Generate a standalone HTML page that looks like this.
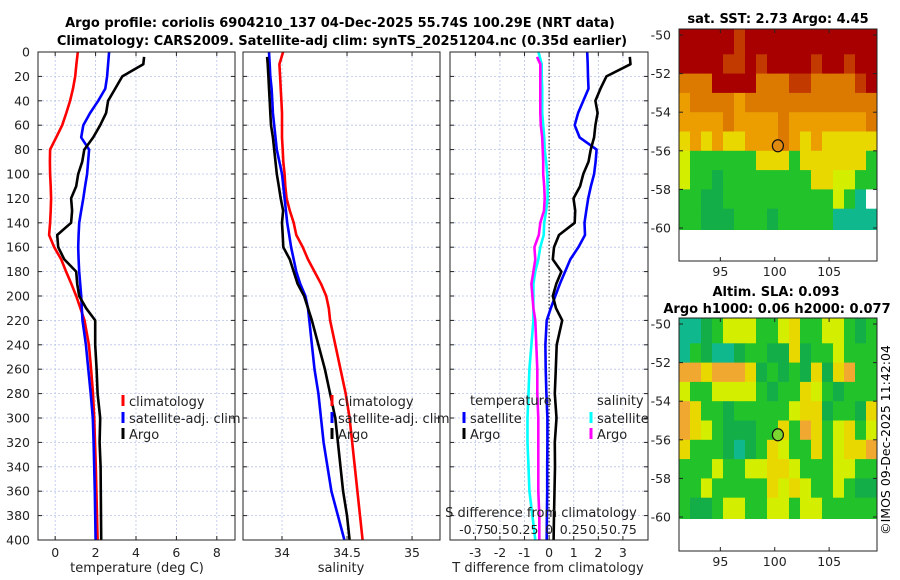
<!DOCTYPE html>
<html><head><meta charset="utf-8"><style>
html,body{margin:0;padding:0;background:#fff}
svg{display:block;font-family:"DejaVu Sans","Liberation Sans",sans-serif}
</style></head><body>
<svg id="fig" width="900" height="580" viewBox="0 0 900 580" xmlns="http://www.w3.org/2000/svg">
<text x="340" y="27" font-size="13" font-weight="bold" text-anchor="middle">Argo profile: coriolis 6904210_137 04-Dec-2025 55.74S 100.29E (NRT data)</text>
<text x="342" y="45" font-size="13" font-weight="bold" text-anchor="middle">Climatology: CARS2009. Satellite-adj clim: synTS_20251204.nc (0.35d earlier)</text>
<text x="778" y="23" font-size="13" font-weight="bold" text-anchor="middle">sat. SST: 2.73 Argo: 4.45</text>
<text x="776" y="296" font-size="13" font-weight="bold" text-anchor="middle">Altim. SLA: 0.093</text>
<text x="777" y="313" font-size="13" font-weight="bold" text-anchor="middle">Argo h1000: 0.06 h2000: 0.077</text>
<text transform="translate(890,440) rotate(-90)" font-size="12.5" text-anchor="middle">©IMOS 09-Dec-2025 11:42:04</text>
<g id="layer"></g>
</svg>
<script>
// ---- profile data ----
const depths = [0,10,20,30,40,50,60,70,80,90,100,110,120,130,140,150,160,170,180,190,200,210,220,240,260,280,300,320,340,360,380,400];
const argoDepths = [4,10,20,30,40,50,60,70,80,90,100,110,120,130,140,150,160,170,180,190,200,210,220,240,260,280,300,320,340,360,380,400];
const tempClim = [1.12,1.05,0.99,0.88,0.74,0.55,0.35,0.05,-0.25,-0.26,-0.25,-0.22,-0.2,-0.22,-0.25,-0.3,-0.05,0.3,0.54,0.8,1.04,1.25,1.45,1.67,1.78,1.87,1.93,1.97,2.01,2.04,2.07,2.1];
const tempSat = [2.67,2.62,2.57,2.48,2.13,1.73,1.39,1.29,1.68,1.63,1.58,1.48,1.39,1.29,1.19,1.16,1.14,1.16,1.19,1.24,1.29,1.32,1.35,1.52,1.64,1.76,1.86,1.9,1.93,1.96,1.98,2.0];
const tempArgo = [4.4,4.36,3.32,2.97,2.62,2.52,2.23,1.88,1.44,1.34,1.14,1.04,0.79,0.84,0.79,0.1,0.15,0.45,1.04,1.09,1.19,1.53,1.98,1.98,2.05,2.1,2.23,2.2,2.25,2.26,2.27,2.28];
const salClim = [34.008,33.98,33.985,33.99,33.995,34.0,34.0,34.0,34.005,34.01,34.02,34.025,34.035,34.06,34.09,34.11,34.16,34.2,34.25,34.3,34.34,34.36,34.37,34.41,34.45,34.49,34.52,34.54,34.56,34.58,34.6,34.62];
const salSat = [33.9,33.905,33.91,33.92,33.925,33.93,33.94,33.95,33.96,33.98,34.0,34.01,34.02,34.03,34.04,34.055,34.07,34.09,34.11,34.14,34.18,34.2,34.21,34.23,34.25,34.28,34.3,34.32,34.35,34.38,34.43,34.48];
const salArgo = [33.885,33.89,33.895,33.9,33.905,33.91,33.915,33.93,33.94,33.95,33.96,33.975,33.99,34.008,34.0,34.005,34.01,34.06,34.09,34.12,34.17,34.2,34.23,34.28,34.33,34.37,34.41,34.43,34.45,34.47,34.5,34.52];
const depthTicks = [0,20,40,60,80,100,120,140,160,180,200,220,240,260,280,300,320,340,360,380,400];
const tempTicks = [0,2,4,6,8];
const salTicks = [34,34.5,35];
const salTickLabels = ["34","34.5","35"];
const diffTicks = [-3,-2,-1,0,1,2,3];
const sDiffTicks = [-0.75,-0.5,-0.25,0,0.25,0.5,0.75];
const sDiffLabels = ["-0.75","0.5","0.25","0","0.25","0.5","0.75"];
const latTicks = [-50,-52,-54,-56,-58,-60];
const lonTicks = [95,100,105];
const argoLon = 100.29, argoLat = -55.74;
// map cell codes (1deg lon x 1deg lat, from -50 southward)
const sstRows = [
"RRRRRrRRRRRRRRRRRR","RRRRrrRrRRRRrRRrRR","OOORRRROOOrrOOOOrR","oOOOOoOOOOOOOOOOOO","ooooOooooOoooooooO",
"YoYoYYoooOoYoYYYYY","yGGGGGGYYYGYYYYYYG","yGGgGGGGGGGGYYyyGG","GGggGGGGGGGGGGyGTW","GGgggGGGgGGGGGTTTT"];
const slaRows = [
"TTgGyyyGGyYGGyyGgG","TGgTTgGGggYgGGyGGG","aaYaaaYgGgGgYgYaGG","yGGyyyyGgGGYyGgGGG","aYGGgGGGGGyYYgGGgY",
"aYyGgggGGYGaYGyYGy","YGGGgTgGYyGGYGyYYa","GGGyGGyyYYyGGGyyGG","GGyGGGGGYyYyGGyGgg","GggGyyGGyyGyyGGGGG"];
const palette = {R:"#a80000",r:"#c23a00",O:"#dc7a00",o:"#ec9e00",Y:"#e8d800",y:"#d4ee00",L:"#a8e400",G:"#22c22a",g:"#14ae48",T:"#10b88e",W:"#ffffff",a:"#f0a830"};

const NS="http://www.w3.org/2000/svg";
const layer=document.getElementById('layer');
function mk(tag,attrs,parent){const e=document.createElementNS(NS,tag);for(const k in attrs)e.setAttribute(k,attrs[k]);(parent||layer).appendChild(e);return e;}
function txt(x,y,s,size,anchor,parent){const t=mk('text',{x:x,y:y,'font-size':size,'text-anchor':anchor||'middle',fill:'#222'},parent);t.textContent=s;return t;}

const PT=52, PB=540;
const yD=d=>PT+d*(PB-PT)/400;
const panels=[
 {name:'temperature-panel',x0:38,x1:235,vmin:-0.85,vmax:8.9},
 {name:'salinity-panel',x0:243,x1:440,vmin:33.7,vmax:35.215},
 {name:'difference-panel',x0:450,x1:648,vmin:-4.03,vmax:4.02}
];
function xs(p){return v=>p.x0+(v-p.vmin)*(p.x1-p.x0)/(p.vmax-p.vmin);}

function drawPanel(p,gridVals,labelVals,labels,showY){
 const g=mk('g',{});
 
 
 const X=xs(p);
 depthTicks.forEach(d=>{const l=mk('line',{x1:p.x0,x2:p.x1,y1:yD(d),y2:yD(d),stroke:'#b8c4e8','stroke-width':0.8,'stroke-dasharray':'2,2'},g);
  
  mk('line',{x1:p.x0,x2:p.x0+4,y1:yD(d),y2:yD(d),stroke:'#222'},g);mk('line',{x1:p.x1-4,x2:p.x1,y1:yD(d),y2:yD(d),stroke:'#222'},g);
  if(showY){const t=txt(30,yD(d)+4.5,String(d),12.5,'end',g);}
 });
 gridVals.forEach(v=>{const l=mk('line',{x1:X(v),x2:X(v),y1:PT,y2:PB,stroke:'#b8c4e8','stroke-width':0.8,'stroke-dasharray':'2,2'},g);
  
  mk('line',{x1:X(v),x2:X(v),y1:PB-4,y2:PB,stroke:'#222'},g);mk('line',{x1:X(v),x2:X(v),y1:PT,y2:PT+4,stroke:'#222'},g);});
 labelVals.forEach((v,i)=>{const t=txt(X(v),557,labels[i],12.5,'middle',g);});
 return g;
}
function line(g,xv,dv,X,color,name){
 const pts=xv.map((v,i)=>X(v).toFixed(1)+','+yD(dv[i]).toFixed(1)).join(' ');
 const pl=mk('polyline',{points:pts,fill:'none',stroke:color,'stroke-width':2.6,'stroke-linejoin':'round'},g);
 
 
}
function frame(p,g){const r=mk('rect',{x:p.x0,y:PT,width:p.x1-p.x0,height:PB-PT,fill:'none',stroke:'#222','stroke-width':1},g);}
function legendEntry(g,x,y,color,label){
 const m=mk('line',{x1:x,x2:x,y1:y-6,y2:y+5,stroke:color,'stroke-width':3},g);
 
 const t=txt(x+6,y+5,label,13,'start',g);
 
}

// Panel 1
let p=panels[0], g=drawPanel(p,tempTicks,tempTicks,tempTicks.map(String),true), X=xs(p);
line(g,tempClim,depths,X,'#ff0000','climatology-temp-line');
line(g,tempSat,depths,X,'#0000ff','satellite-temp-line');
line(g,tempArgo,argoDepths,X,'#000000','argo-temp-line');
frame(p,g);
legendEntry(g,123,401,'#ff0000','climatology');legendEntry(g,123,418,'#0000ff','satellite-adj. clim');legendEntry(g,123,434,'#000000','Argo');
let xl=txt(137,572,'temperature (deg C)',13,'middle',g);

// Panel 2
p=panels[1]; g=drawPanel(p,salTicks,salTicks,salTickLabels,false); X=xs(p);
line(g,salClim,depths,X,'#ff0000','climatology-salinity-line');
line(g,salSat,depths,X,'#0000ff','satellite-salinity-line');
line(g,salArgo,argoDepths,X,'#000000','argo-salinity-line');
frame(p,g);
legendEntry(g,332,401,'#ff0000','climatology');legendEntry(g,332,418,'#0000ff','satellite-adj. clim');legendEntry(g,332,434,'#000000','Argo');
xl=txt(341,572,'salinity',13,'middle',g);

// Panel 3
p=panels[2]; g=drawPanel(p,diffTicks,diffTicks,diffTicks.map(String),false); X=xs(p);
const XS=v=>X(v*4);
const z=mk('line',{x1:X(0),x2:X(0),y1:PT,y2:PB,stroke:'#333','stroke-width':1.2,'stroke-dasharray':'1.5,2'},g);

line(g,salSat.map((v,i)=>v-salClim[i]),depths,XS,'#00ffff','satellite-salinity-diff-line');
line(g,salArgo.map((v,i)=>v-salClim[i]),argoDepths,XS,'#ff00ff','argo-salinity-diff-line');
line(g,tempSat.map((v,i)=>v-tempClim[i]),depths,X,'#0000ff','satellite-temp-diff-line');
line(g,tempArgo.map((v,i)=>v-tempClim[i]),argoDepths,X,'#000000','argo-temp-diff-line');
frame(p,g);
sDiffTicks.forEach((v,i)=>{const t=txt(XS(v),534,sDiffLabels[i],12.5,'middle',g);});
xl=txt(541,517,'S difference from climatology',13,'middle',g);
xl=txt(548,572,'T difference from climatology',13,'middle',g);
xl=txt(470,405,'temperature',13,'start',g);
xl=txt(597,405,'salinity',13,'start',g);
legendEntry(g,464,418,'#0000ff','satellite');legendEntry(g,464,434,'#000000','Argo');
legendEntry(g,591,418,'#00ffff','satellite');legendEntry(g,591,434,'#ff00ff','Argo');

// Maps
function drawMap(name,rows,top,bottom,latTop,fill){
 const mg=mk('g',{});
 
 
 const x0=679,x1=877,lon0=91.2,lon1=109.4;
 const lx=v=>x0+(v-lon0)*(x1-x0)/(lon1-lon0);
 const ly=v=>latTop+(-50-v)*19.3;
 const cw=(x1-x0)/18;
 rows.forEach((row,ri)=>{for(let ci=0;ci<row.length;ci++){
  const ya=ri===0?top:ly(-50-ri), yb=ly(-51-ri)+(ri===9?1.5:0);
  mk('rect',{x:(x0+ci*cw).toFixed(1),y:ya.toFixed(1),width:(cw+0.5).toFixed(1),height:(yb-ya+0.5).toFixed(1),fill:palette[row[ci]]},mg);}});
 mk('rect',{x:x0,y:top,width:x1-x0,height:bottom-top,fill:'none',stroke:'#222'},mg);
 latTicks.forEach(v=>{mk('line',{x1:x0,x2:x0+4,y1:ly(v),y2:ly(v),stroke:'#222'},mg);mk('line',{x1:x1-4,x2:x1,y1:ly(v),y2:ly(v),stroke:'#222'},mg);
  const t=txt(671,ly(v)+4.5,String(v),12.5,'end',mg);});
 lonTicks.forEach(v=>{mk('line',{x1:lx(v),x2:lx(v),y1:bottom-4,y2:bottom,stroke:'#222'},mg);mk('line',{x1:lx(v),x2:lx(v),y1:top,y2:top+4,stroke:'#222'},mg);
  const t=txt(lx(v),bottom+15,String(v),12.5,'middle',mg);});
 const c=mk('ellipse',{cx:lx(argoLon),cy:ly(argoLat),rx:5.5,ry:6,fill:fill,stroke:'#111','stroke-width':1.2},mg);
 
}
drawMap('sst-map',sstRows,29,261,35,'#e08a10');
drawMap('sla-map',slaRows,318,551,324,'#7cd630');
</script>
</body></html>
